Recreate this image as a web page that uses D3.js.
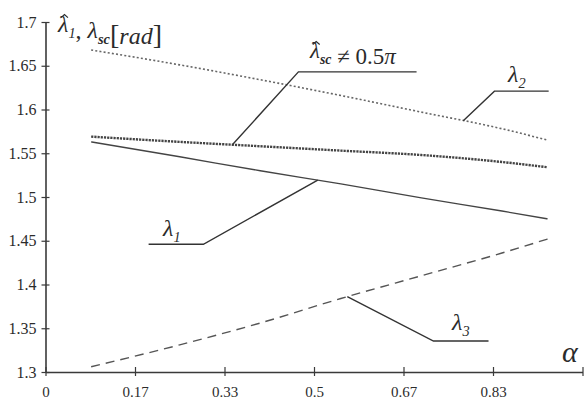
<!DOCTYPE html>
<html>
<head>
<meta charset="utf-8">
<script src="https://cdn.jsdelivr.net/npm/d3@7"></script>
<style>
  html, body { margin: 0; padding: 0; background: #fff; }
  svg { display: block; }
  text { font-family: "Liberation Serif", "Times New Roman", Times, serif; fill: #2b2b2b; }
</style>
</head>
<body>
<svg id="chart" width="587" height="401"></svg>
<script>
// Angle parameter along the horizontal axis
const alpha    = [0.085, 0.25, 0.4, 0.55, 0.7, 0.85, 0.935];
// Computed angles [rad]
const lambda1  = [1.563, 1.546, 1.530, 1.515, 1.499, 1.484, 1.475];
const lambda2  = [1.668, 1.651, 1.634, 1.616, 1.597, 1.578, 1.565];
const lambdaSc = [1.569, 1.563, 1.558, 1.553, 1.548, 1.540, 1.534];
const lambda3  = [1.306, 1.331, 1.356, 1.384, 1.410, 1.436, 1.452];

// Axis ticks
const xTicks      = [0, 1/6, 2/6, 0.5, 4/6, 5/6, 1];
const xTickLabels = ["0", "0.17", "0.33", "0.5", "0.67", "0.83", ""];
const yTicks      = [1.3, 1.35, 1.4, 1.45, 1.5, 1.55, 1.6, 1.65, 1.7];
const yTickLabels = ["1.3", "1.35", "1.4", "1.45", "1.5", "1.55", "1.6", "1.65", "1.7"];

// Callouts: anchor on a curve (alpha), elbow and end of the leader (alpha, value)
const callouts = [
  { series: "sc", at: 0.348, elbow: [0.471, 1.643], end: [0.691, 1.643] },
  { series: "l2", at: 0.778, elbow: [0.836, 1.621], end: [0.937, 1.621] },
  { series: "l1", at: 0.507, elbow: [0.294, 1.446], end: [0.192, 1.446] },
  { series: "l3", at: 0.562, elbow: [0.7225, 1.3354], end: [0.825, 1.3354] }
];

const svg = d3.select("#chart");
const x = d3.scaleLinear().domain([0, 1]).range([45.5, 582.5]);
const y = d3.scaleLinear().domain([1.3, 1.7]).range([372, 22]);

const ink = "#3a3a3a";

// X axis
const xAxis = svg.append("g")
  .attr("transform", `translate(0,${y(1.3)})`)
  .call(d3.axisBottom(x).tickValues(xTicks)
    .tickFormat((d, i) => xTickLabels[i]).tickSizeInner(4).tickSizeOuter(0).tickPadding(10));
xAxis.select(".domain").attr("stroke", ink).attr("stroke-width", 1.4);
xAxis.selectAll(".tick line").attr("y1", -5).attr("y2", 4).attr("stroke", ink).attr("stroke-width", 1.2);
xAxis.selectAll(".tick text").attr("font-size", 15).attr("fill", "#2b2b2b");

// Y axis
const yAxis = svg.append("g")
  .attr("transform", `translate(${x(0)},0)`)
  .call(d3.axisLeft(y).tickValues(yTicks)
    .tickFormat((d, i) => yTickLabels[i]).tickSizeInner(4).tickSizeOuter(0).tickPadding(5));
yAxis.select(".domain").attr("stroke", ink).attr("stroke-width", 1.6);
yAxis.selectAll(".tick line").attr("x1", -4).attr("x2", 4).attr("stroke", ink).attr("stroke-width", 1.2);
yAxis.selectAll(".tick text").attr("font-size", 16).attr("fill", "#2b2b2b");

// Curves
const seriesDefs = {
  l2: { values: lambda2,  dash: "2,2.2", width: 1.6, color: "#666" },
  sc: { values: lambdaSc, dash: "2.2,1", width: 2.4, color: "#444" },
  l1: { values: lambda1,  dash: null,    width: 1.3, color: "#444" },
  l3: { values: lambda3,  dash: "9,6",   width: 1.4, color: "#555" }
};
const line = d3.line().x(d => x(d[0])).y(d => y(d[1])).curve(d3.curveMonotoneX);
Object.values(seriesDefs).forEach(s => {
  svg.append("path")
    .datum(alpha.map((a, i) => [a, s.values[i]]))
    .attr("d", line)
    .attr("fill", "none")
    .attr("stroke", s.color)
    .attr("stroke-width", s.width)
    .attr("stroke-dasharray", s.dash);
});

// Leader lines
callouts.forEach(c => {
  const v = d3.scaleLinear().domain(alpha).range(seriesDefs[c.series].values)(c.at);
  svg.append("polyline")
    .attr("points", [[x(c.at), y(v)], [x(c.elbow[0]), y(c.elbow[1])], [x(c.end[0]), y(c.end[1])]]
      .map(p => p.join(",")).join(" "))
    .attr("fill", "none").attr("stroke", "#333").attr("stroke-width", 1.4);
});

// Lambda symbol followed by a subscript
function lambdaGlyph(t, sub, size, subBold) {
  t.append("tspan").attr("font-style", "italic").text("\u03BB");
  t.append("tspan").attr("dy", size * 0.25)
    .attr("font-size", size * 0.6).attr("font-style", "italic")
    .attr("font-weight", subBold ? "bold" : null).text(sub);
  t.append("tspan").attr("dy", -size * 0.25).text("");
}

// Small circumflex drawn over the first glyph of a text element
function hatOver(textSel, charIndex) {
  const box = textSel.node().getExtentOfChar(charIndex);
  const cx = box.x + box.width * 0.62, top = box.y + box.height * 0.14;
  svg.append("path")
    .attr("d", `M${cx - 3.5},${top + 3} L${cx},${top} L${cx + 3.5},${top + 3}`)
    .attr("fill", "none").attr("stroke", "#2b2b2b").attr("stroke-width", 1.2);
}

// Axis title
const title = svg.append("text").attr("x", 58).attr("y", 32).attr("font-size", 24);
lambdaGlyph(title, "1", 24, false);
title.append("tspan").text(", ");
lambdaGlyph(title, "sc", 24, true);
title.append("tspan").attr("font-size", 28).text("[");
title.append("tspan").attr("font-style", "italic").text("rad");
title.append("tspan").attr("font-size", 28).text("]");
hatOver(title, 0);

// Series names
const sc = svg.append("text").attr("x", 310).attr("y", 58).attr("font-size", 23);
lambdaGlyph(sc, "sc", 23, true);
sc.append("tspan").text(" \u2260 0.5");
sc.append("tspan").attr("font-style", "italic").text("\u03C0");
hatOver(sc, 0);

lambdaGlyph(svg.append("text").attr("x", 508).attr("y", 82).attr("font-size", 24), "2", 24, false);
lambdaGlyph(svg.append("text").attr("x", 163).attr("y", 236).attr("font-size", 24), "1", 24, false);
lambdaGlyph(svg.append("text").attr("x", 452).attr("y", 330).attr("font-size", 24), "3", 24, false);

svg.append("text").attr("x", 562).attr("y", 362).attr("font-size", 30).attr("font-style", "italic").text("\u03B1");
</script>
</body>
</html>
